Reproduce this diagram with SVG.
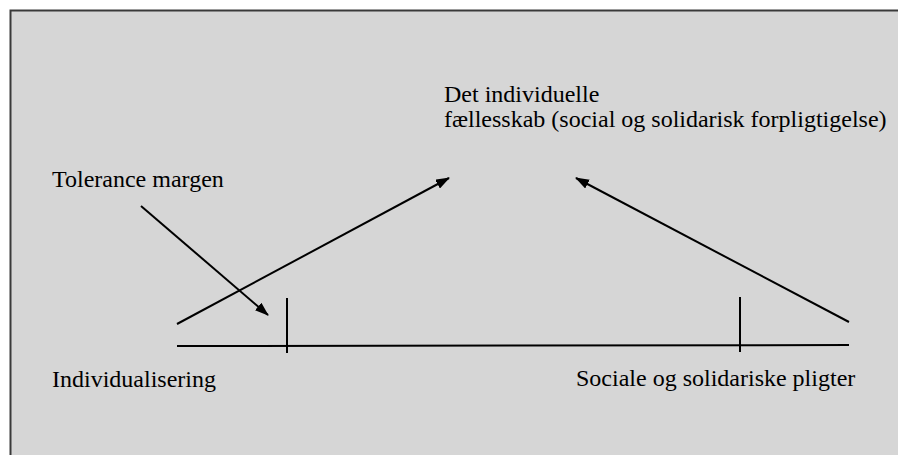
<svg xmlns="http://www.w3.org/2000/svg" width="898" height="455" viewBox="0 0 898 455">
<style>
text{font-family:"Liberation Serif","Times New Roman",serif;font-size:24px;fill:#000}
.ln{stroke:#000;stroke-width:2;fill:none}
</style>
<defs>
<marker id="ah" viewBox="0 0 14 10" refX="13" refY="5" markerWidth="14" markerHeight="10" markerUnits="userSpaceOnUse" orient="auto">
<path d="M0,0 L14,5 L0,10 Z" fill="#000"/>
</marker>
</defs>
<rect x="0" y="0" width="898" height="455" fill="#fff"/>
<g id="frame">
<rect x="10.5" y="10.5" width="900" height="460" fill="#d6d6d6"/>
<path d="M10.5,470 V10.5 H960" fill="none" stroke="#3a3a3a" stroke-width="2"/>
</g>
<g id="connectors">
<line class="ln" x1="177" y1="346" x2="849" y2="345"/>
<line class="ln" x1="287" y1="298" x2="287" y2="353"/>
<line class="ln" x1="740" y1="297" x2="740" y2="352"/>
<line class="ln" x1="177" y1="324" x2="449" y2="178" marker-end="url(#ah)"/>
<line class="ln" x1="849" y1="322" x2="576" y2="178" marker-end="url(#ah)"/>
<line class="ln" x1="141" y1="206" x2="268" y2="315" marker-end="url(#ah)"/>
</g>
<g id="title"><text x="444" y="102">Det individuelle</text><text x="444" y="127">fællesskab (social og solidarisk forpligtigelse)</text></g>
<g id="tolerance"><text x="52" y="187">Tolerance margen</text></g>
<g id="individualisering"><text x="52" y="387">Individualisering</text></g>
<g id="sociale"><text x="576" y="386">Sociale og solidariske pligter</text></g>
</svg>
